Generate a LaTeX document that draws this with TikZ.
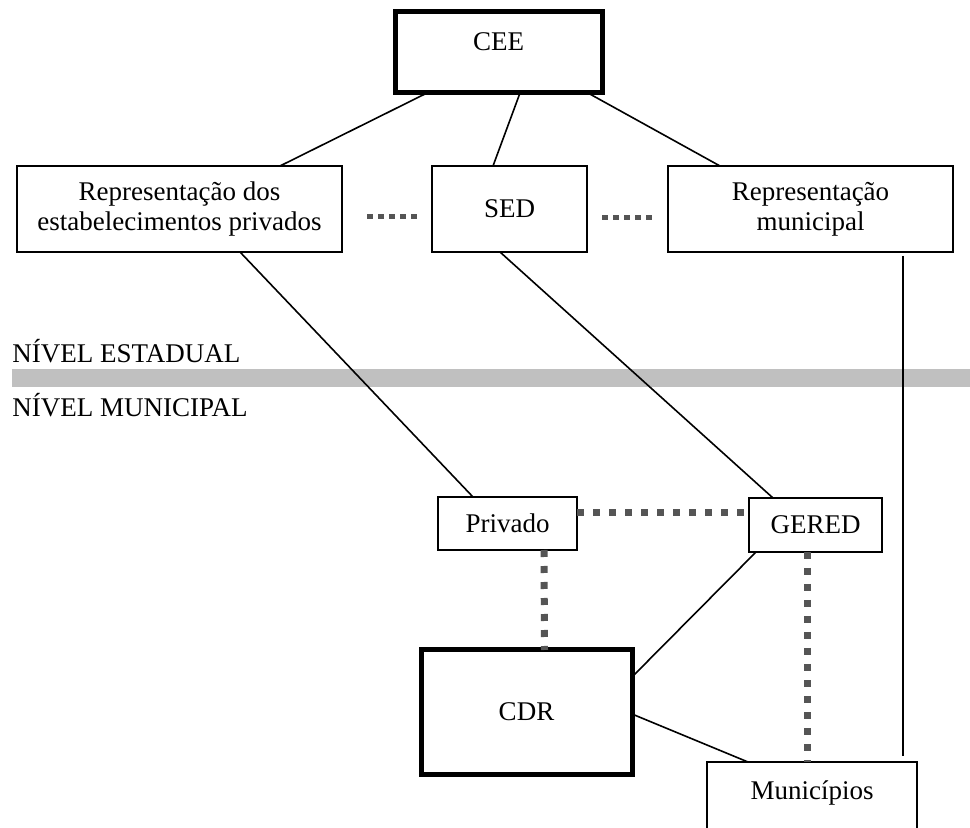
\documentclass[tikz,border=0pt]{standalone}
\usepackage{fontspec}
\setmainfont{Liberation Serif}
\usepackage{tikz}
\usetikzlibrary{shapes,arrows}
\definecolor{dotgray}{RGB}{85,85,85}
\definecolor{bandgray}{RGB}{192,192,192}
\tikzstyle{box} = [draw,line width=1pt,rectangle,align=center,inner sep=0pt,outer sep=0pt]
\tikzstyle{mainbox} = [box,line width=2.5pt]
\tikzstyle{link} = [line width=0.8pt]
\tikzstyle{smalldots} = [dotgray,line width=2.5pt,dash pattern=on 3pt off 2.5pt]
\tikzstyle{bigdots} = [dotgray,line width=3.5pt,dash pattern=on 3.5pt off 4.5pt]

\begin{document}
\begin{tikzpicture}[x=0.5pt,y=-0.5pt,font=\fontsize{13.5}{15}\selectfont]
                        \useasboundingbox (0,0) rectangle (970,828);
                        \clip (0,0) rectangle (970,828);
                        % nivel estadual
                        \node[mainbox,minimum width=103.5pt,minimum height=40.5pt,
                            text height=10pt,text depth=11.5pt] (cee) at (498.5,52.5) {CEE};
                        \node[box,minimum width=162.5pt,minimum height=43pt]
                            (repr) at (179.5,209) {Representação dos\\estabelecimentos privados};
                        \node[box,minimum width=77.5pt,minimum height=43pt] (sed) at (509.5,209) {SED};
                        \node[box,minimum width=142.5pt,minimum height=43pt]
                            (munrep) at (810.5,209) {Representação\\municipal};
                        % faixa entre os niveis
                        \node[anchor=base west,inner sep=0pt] (estadual) at (12,363) {NÍVEL ESTADUAL};
                        \fill[bandgray] (12,369) rectangle (970,387);
                        \node[anchor=base west,inner sep=0pt] (municipal) at (12,417) {NÍVEL MUNICIPAL};
                        % nivel municipal
                        \node[box,minimum width=69.5pt,minimum height=26.5pt] (priv) at (507.5,523.5) {Privado};
                        \node[box,minimum width=66.5pt,minimum height=27pt] (gered) at (815.5,525) {GERED};
                        \node[mainbox,minimum width=105.5pt,minimum height=62pt] (cdr) at (526.5,712) {CDR};
                        \node[box,minimum width=105pt,minimum height=45pt,
                            text height=10pt,text depth=18pt] (muni) at (812,807) {Municípios};
                        % ligacoes
                        \draw[link] ([xshift=16pt]cee.south west) -- ([xshift=50.25pt]repr.north);
                        \draw[link] ([xshift=10.75pt]cee.south) -- ([xshift=-8.25pt]sed.north);
                        \draw[link] ([xshift=-7pt]cee.south east) -- ([xshift=26pt]munrep.north west);
                        \draw[link] ([xshift=30.25pt]repr.south) -- ([xshift=-17.25pt]priv.north);
                        \draw[link] ([xshift=-4.75pt]sed.south) -- ([xshift=-21.25pt]gered.north);
                        \draw[line width=0.7pt] ([xshift=46.25pt,yshift=-2pt]munrep.south)
                            -- ([xshift=45.5pt,yshift=3pt]muni.north);
                        \draw[link] ([xshift=3.5pt]gered.south west) -- ([yshift=17.5pt]cdr.east);
                        \draw[link] ([yshift=-1pt]cdr.east) -- ([xshift=20.5pt]muni.north west);
                        \draw[smalldots] ([xshift=12.5pt,yshift=-4pt]repr.east) -- ([xshift=-7pt,yshift=-4pt]sed.west);
                        \draw[smalldots] ([xshift=7.5pt,yshift=-4.5pt]sed.east) -- ([xshift=-6.5pt,yshift=-4.5pt]munrep.west);
                        \draw[bigdots] ([yshift=5.25pt]priv.east) -- ([yshift=5.25pt]priv.east -| gered.west);
                        \draw[bigdots] ([xshift=18.25pt]priv.south) -- ([xshift=9pt]cdr.north);
                        \draw[bigdots] ([xshift=-4.25pt]gered.south) -- ([xshift=-2.5pt]muni.north);
                    \end{tikzpicture}
\end{document}
